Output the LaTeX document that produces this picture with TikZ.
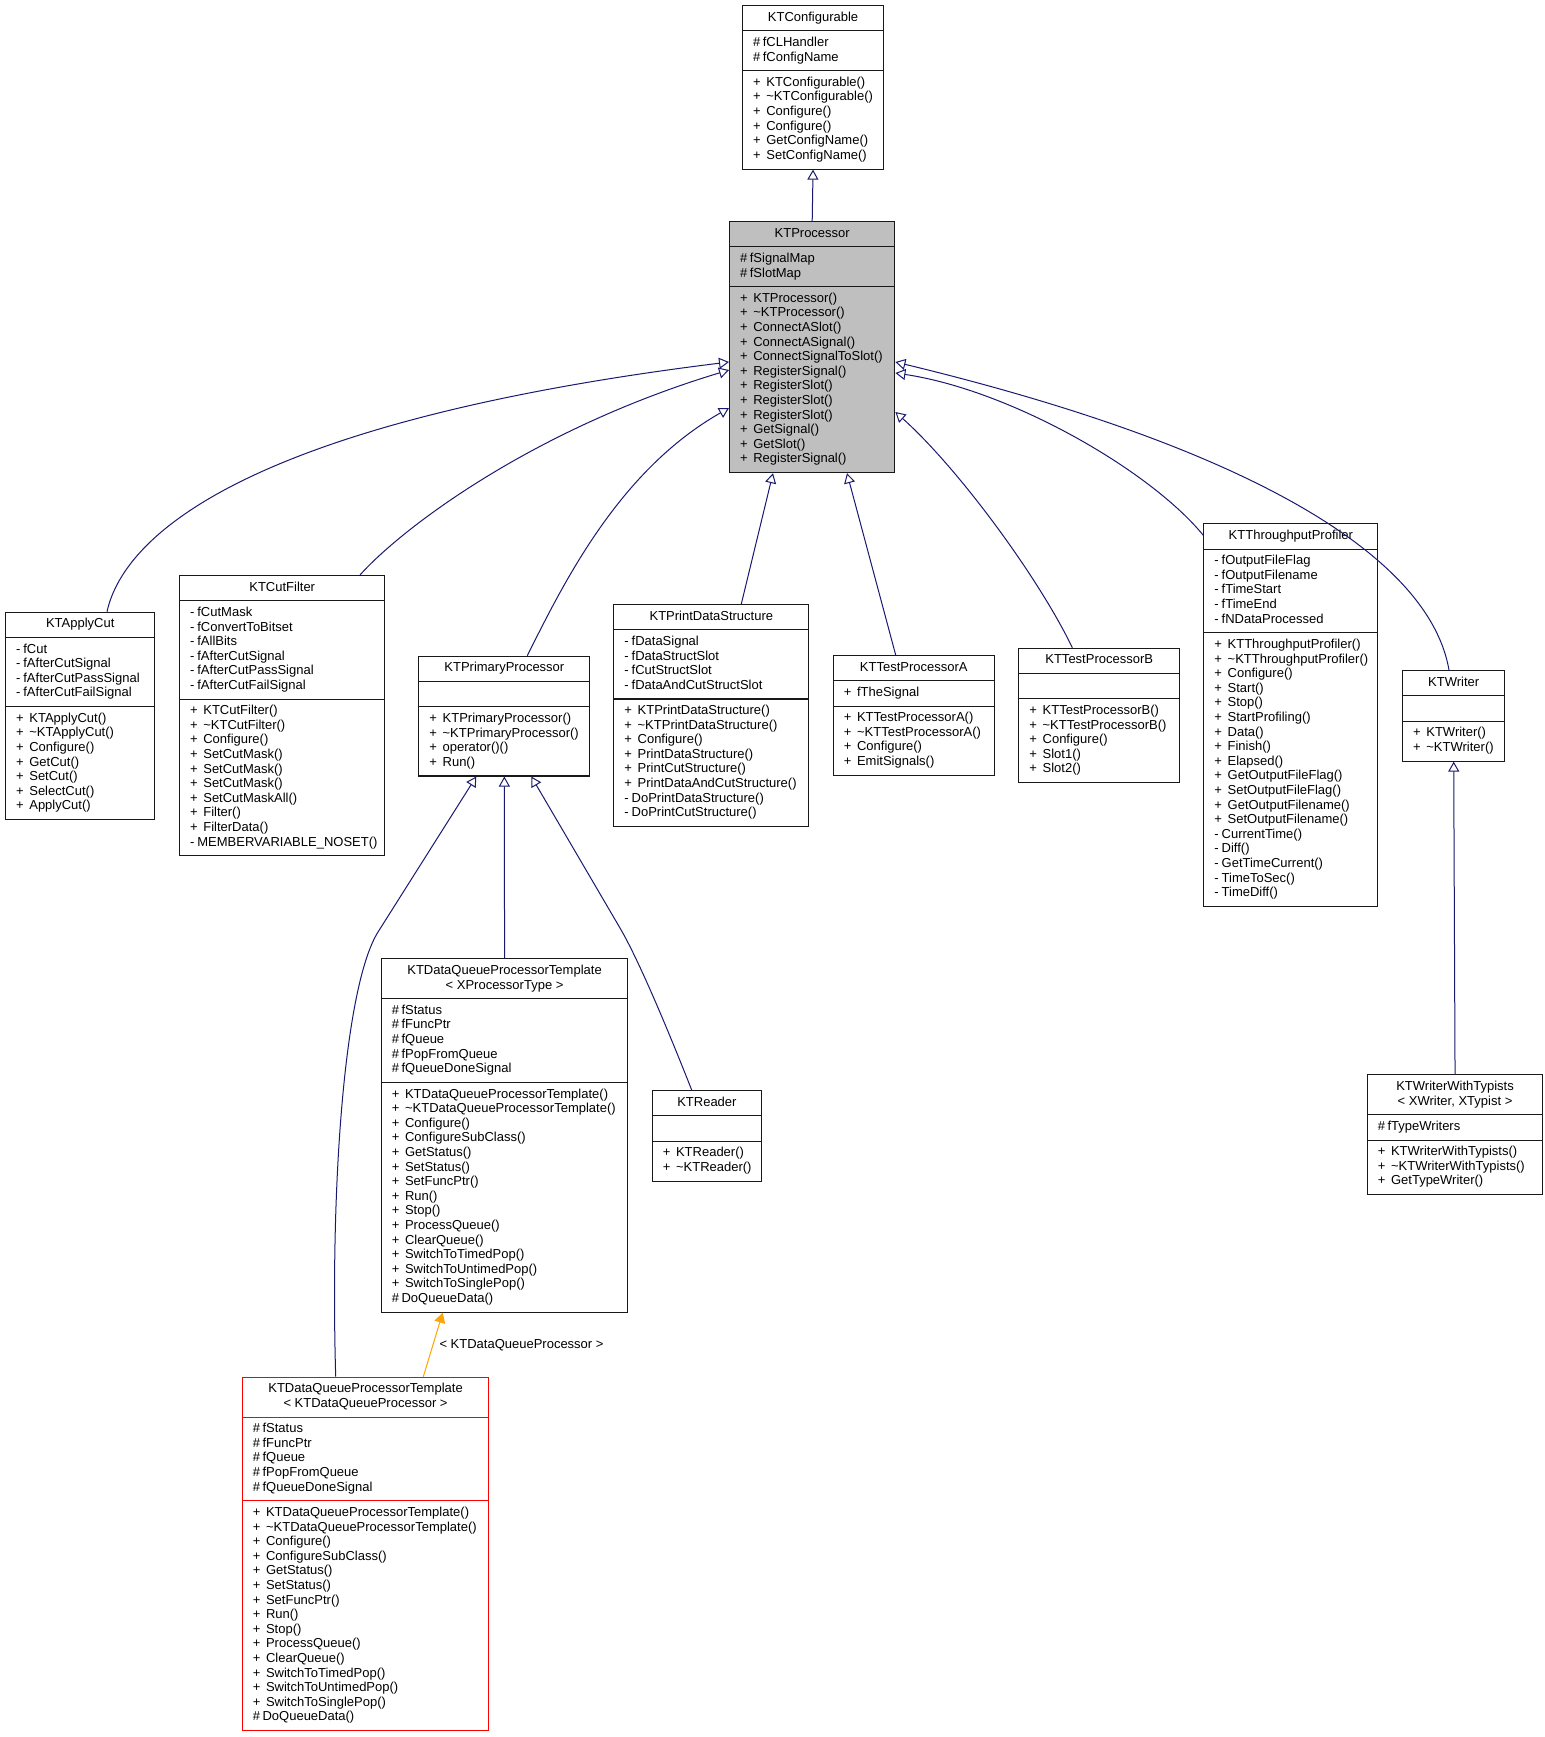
\documentclass[tikz,border=0pt]{standalone}
\usepackage{fontspec}
\setmainfont{Liberation Sans}
\usetikzlibrary{shapes.multipart,arrows.meta,calc}
\definecolor{edgeblue}{HTML}{191970}
\definecolor{edgeorange}{HTML}{FFA500}
\definecolor{procgray}{HTML}{BFBFBF}
\newcommand\umlfont{\fontsize{6.5pt}{7.3pt}\selectfont}
\newcommand\mpub{+\hspace{.44em}}
\newcommand\mpri{-\hspace{.23em}}
\newcommand\mpro{\#\hspace{.2em}}
\newcommand\cl[1]{{\umlfont\begin{tabular}{@{}c@{}}#1\end{tabular}}}
\newcommand\lns[1]{{\umlfont\begin{tabular}{@{\hspace{2.75pt}}l@{}}#1\end{tabular}}}
\newcommand\nopart{{\umlfont\strut}}
\begin{document}
\begin{tikzpicture}[x=0.5pt,y=-0.5pt,
  cls/.style={rectangle split, rectangle split parts=3, draw=black!90, line width=0.55pt,
    inner xsep=2.5pt, inner ysep=2.4pt, rectangle split part align={center,left,left},
    anchor=north west, fill=white},
  inh/.style={draw=edgeblue, line width=0.5pt, -{Triangle[open,length=5pt,width=5.5pt]}},
  gen/.style={draw=edgeorange, line width=0.5pt, -{Triangle[length=5pt,width=5.5pt,fill=edgeorange]}},
  lbl/.style={font=\umlfont, inner xsep=3pt, inner ysep=0pt}]
\path[fill=white] (0,0) rectangle (1545,1737);
\useasboundingbox (0,0) rectangle (1545,1737);

% ---------- classes ----------
\node[cls, minimum width=70.5pt] (configurable) at (742,5)
 {\cl{KTConfigurable}
  \nodepart{two}\lns{\mpro fCLHandler\\\mpro fConfigName}
  \nodepart{three}\lns{\mpub KTConfigurable()\\\mpub \textasciitilde KTConfigurable()\\\mpub Configure()\\\mpub Configure()\\\mpub GetConfigName()\\\mpub SetConfigName()}};

\node[cls, minimum width=82.65pt, fill=procgray] (proc) at (729,221)
 {\cl{KTProcessor}
  \nodepart{two}\lns{\mpro fSignalMap\\\mpro fSlotMap}
  \nodepart{three}\lns{\mpub KTProcessor()\\\mpub \textasciitilde KTProcessor()\\\mpub ConnectASlot()\\\mpub ConnectASignal()\\\mpub ConnectSignalToSlot()\\\mpub RegisterSignal()\\\mpub RegisterSlot()\\\mpub RegisterSlot()\\\mpub RegisterSlot()\\\mpub GetSignal()\\\mpub GetSlot()\\\mpub RegisterSignal()}};

\node[cls, minimum width=74.65pt] (applycut) at (5,611.7)
 {\cl{KTApplyCut}
  \nodepart{two}\lns{\mpri fCut\\\mpri fAfterCutSignal\\\mpri fAfterCutPassSignal\\\mpri fAfterCutFailSignal}
  \nodepart{three}\lns{\mpub KTApplyCut()\\\mpub \textasciitilde KTApplyCut()\\\mpub Configure()\\\mpub GetCut()\\\mpub SetCut()\\\mpub SelectCut()\\\mpub ApplyCut()}};

\node[cls, minimum width=102.65pt] (cutfilter) at (179,575)
 {\cl{KTCutFilter}
  \nodepart{two}\lns{\mpri fCutMask\\\mpri fConvertToBitset\\\mpri fAllBits\\\mpri fAfterCutSignal\\\mpri fAfterCutPassSignal\\\mpri fAfterCutFailSignal}
  \nodepart{three}\lns{\mpub KTCutFilter()\\\mpub \textasciitilde KTCutFilter()\\\mpub Configure()\\\mpub SetCutMask()\\\mpub SetCutMask()\\\mpub SetCutMask()\\\mpub SetCutMaskAll()\\\mpub Filter()\\\mpub FilterData()\\\mpri MEMBERVARIABLE\_NOSET()}};

\node[cls, minimum width=85.5pt] (primary) at (418.3,655.7)
 {\cl{KTPrimaryProcessor}
  \nodepart{two}\nopart
  \nodepart{three}\lns{\mpub KTPrimaryProcessor()\\\mpub \textasciitilde KTPrimaryProcessor()\\\mpub operator()()\\\mpub Run()}};

\node[cls, minimum width=97.5pt] (printdata) at (613.3,604)
 {\cl{KTPrintDataStructure}
  \nodepart{two}\lns{\mpri fDataSignal\\\mpri fDataStructSlot\\\mpri fCutStructSlot\\\mpri fDataAndCutStructSlot}
  \nodepart{three}\lns{\mpub KTPrintDataStructure()\\\mpub \textasciitilde KTPrintDataStructure()\\\mpub Configure()\\\mpub PrintDataStructure()\\\mpub PrintCutStructure()\\\mpub PrintDataAndCutStructure()\\\mpri DoPrintDataStructure()\\\mpri DoPrintCutStructure()}};

\node[cls, minimum width=80.5pt] (testa) at (832.7,655)
 {\cl{KTTestProcessorA}
  \nodepart{two}\lns{\mpub fTheSignal}
  \nodepart{three}\lns{\mpub KTTestProcessorA()\\\mpub \textasciitilde KTTestProcessorA()\\\mpub Configure()\\\mpub EmitSignals()}};

\node[cls, minimum width=80.35pt] (testb) at (1018.3,647.7)
 {\cl{KTTestProcessorB}
  \nodepart{two}\nopart
  \nodepart{three}\lns{\mpub KTTestProcessorB()\\\mpub \textasciitilde KTTestProcessorB()\\\mpub Configure()\\\mpub Slot1()\\\mpub Slot2()}};

\node[cls, minimum width=87pt] (throughput) at (1203.3,523.3)
 {\cl{KTThroughputProfiler}
  \nodepart{two}\lns{\mpri fOutputFileFlag\\\mpri fOutputFilename\\\mpri fTimeStart\\\mpri fTimeEnd\\\mpri fNDataProcessed}
  \nodepart{three}\lns{\mpub KTThroughputProfiler()\\\mpub \textasciitilde KTThroughputProfiler()\\\mpub Configure()\\\mpub Start()\\\mpub Stop()\\\mpub StartProfiling()\\\mpub Data()\\\mpub Finish()\\\mpub Elapsed()\\\mpub GetOutputFileFlag()\\\mpub SetOutputFileFlag()\\\mpub GetOutputFilename()\\\mpub SetOutputFilename()\\\mpri CurrentTime()\\\mpri Diff()\\\mpri GetTimeCurrent()\\\mpri TimeToSec()\\\mpri TimeDiff()}};

\node[cls, minimum width=51.15pt] (writer) at (1402,670)
 {\cl{KTWriter}
  \nodepart{two}\nopart
  \nodepart{three}\lns{\mpub KTWriter()\\\mpub \textasciitilde KTWriter()}};

\node[cls, minimum width=123.3pt] (template) at (380.7,958.3)
 {\cl{KTDataQueueProcessorTemplate\\< XProcessorType >}
  \nodepart{two}\lns{\mpro fStatus\\\mpro fFuncPtr\\\mpro fQueue\\\mpro fPopFromQueue\\\mpro fQueueDoneSignal}
  \nodepart{three}\lns{\mpub KTDataQueueProcessorTemplate()\\\mpub \textasciitilde KTDataQueueProcessorTemplate()\\\mpub Configure()\\\mpub ConfigureSubClass()\\\mpub GetStatus()\\\mpub SetStatus()\\\mpub SetFuncPtr()\\\mpub Run()\\\mpub Stop()\\\mpub ProcessQueue()\\\mpub ClearQueue()\\\mpub SwitchToTimedPop()\\\mpub SwitchToUntimedPop()\\\mpub SwitchToSinglePop()\\\mpro DoQueueData()}};

\node[cls, minimum width=54.65pt] (reader) at (651.7,1090)
 {\cl{KTReader}
  \nodepart{two}\nopart
  \nodepart{three}\lns{\mpub KTReader()\\\mpub \textasciitilde KTReader()}};

\node[cls, minimum width=123.3pt, draw=red] (dqp) at (241.7,1376.7)
 {\cl{KTDataQueueProcessorTemplate\\< KTDataQueueProcessor >}
  \nodepart{two}\lns{\mpro fStatus\\\mpro fFuncPtr\\\mpro fQueue\\\mpro fPopFromQueue\\\mpro fQueueDoneSignal}
  \nodepart{three}\lns{\mpub KTDataQueueProcessorTemplate()\\\mpub \textasciitilde KTDataQueueProcessorTemplate()\\\mpub Configure()\\\mpub ConfigureSubClass()\\\mpub GetStatus()\\\mpub SetStatus()\\\mpub SetFuncPtr()\\\mpub Run()\\\mpub Stop()\\\mpub ProcessQueue()\\\mpub ClearQueue()\\\mpub SwitchToTimedPop()\\\mpub SwitchToUntimedPop()\\\mpub SwitchToSinglePop()\\\mpro DoQueueData()}};

\node[cls, minimum width=87.8pt] (typists) at (1366.7,1074.3)
 {\cl{KTWriterWithTypists\\< XWriter, XTypist >}
  \nodepart{two}\lns{\mpro fTypeWriters}
  \nodepart{three}\lns{\mpub KTWriterWithTypists()\\\mpub \textasciitilde KTWriterWithTypists()\\\mpub GetTypeWriter()}};

% ---------- connectors ----------
\draw[inh] (proc.north) -- (configurable.south);
\draw[inh] ($(applycut.north west)+(102,0)$) .. controls (125,530) and (260,420) .. ($(proc.north west)+(0,141)$);
\draw[inh] ($(cutfilter.north west)+(181,0)$) .. controls (400,530) and (530,430) .. ($(proc.north west)+(0,149)$);
\draw[inh] ($(primary.north west)+(109,0)$) .. controls (565,580) and (620,470) .. ($(proc.north west)+(0,187)$);
\draw[inh] ($(printdata.north west)+(128,0)$) -- ($(proc.south west)+(44,0)$);
\draw[inh] ($(testa.north west)+(63,0)$) -- ($(proc.south west)+(118,0)$);
\draw[inh] ($(testb.north west)+(54,0)$) .. controls (1040,580) and (960,470) .. ($(proc.north east)+(0,191)$);
\draw[inh] ($(throughput.north west)+(0,12)$) .. controls (1150,470) and (1010,390) .. ($(proc.north east)+(0,152)$);
\draw[inh] ($(writer.north west)+(47,0)$) .. controls (1430,560) and (1260,450) .. ($(proc.north east)+(0,141)$);
\draw[inh] (typists.north) -- (writer.south);
\draw[inh] (template.north) -- (primary.south);
\draw[inh] ($(reader.north west)+(40,0)$) .. controls (672,1040) and (640,962) .. (620,928) -- ($(primary.south west)+(113,0)$);
\draw[inh] ($(dqp.north west)+(94,0)$) .. controls (330,1180) and (345,985) .. (378,932) -- ($(primary.south west)+(58,0)$);
\draw[gen] ($(dqp.north west)+(181.6,0)$) -- node[lbl, right] (bindlabel) {< KTDataQueueProcessor >} ($(template.south west)+(62,0)$);
\end{tikzpicture}
\end{document}
